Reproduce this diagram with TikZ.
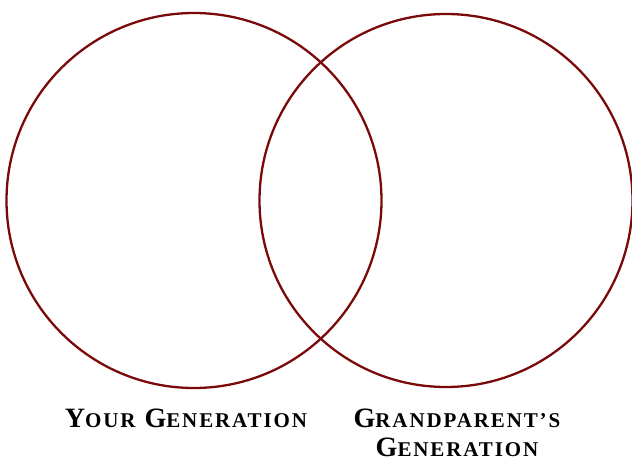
\documentclass[tikz,border=0pt]{standalone}
\usepackage{fontspec}
\setmainfont{Liberation Serif}
\newfontfamily\labfont[LetterSpace=9]{Liberation Serif}
\definecolor{ring}{HTML}{7A0A0A}
\newcommand{\bigc}[1]{{\fontsize{28}{28}\selectfont #1}}
\newcommand{\smc}[1]{{\fontsize{21}{21}\selectfont #1}}
\tikzset{
  ringstyle/.style={draw=ring, line width=2.3pt},
  labelstyle/.style={font=\labfont\bfseries, text=black, align=center, inner sep=0pt}
}
\begin{document}
\begin{tikzpicture}[x=1pt,y=-1pt]
\useasboundingbox (0,0) rectangle (632,461);
\draw[ringstyle] (194,200.5) circle[radius=187.5];
\draw[ringstyle] (446,200.5) circle[radius=186.5];
\node[labelstyle, anchor=base] (you) at (186,427) {\bigc{Y}\smc{OUR}\hspace{9pt}\bigc{G}\smc{ENERATION}};
\node[labelstyle, anchor=base] (gp1) at (457,427) {\bigc{G}\smc{RANDPARENT’S}};
\node[labelstyle, anchor=base] (gp2) at (457,456) {\bigc{G}\smc{ENERATION}};
\end{tikzpicture}
\end{document}
